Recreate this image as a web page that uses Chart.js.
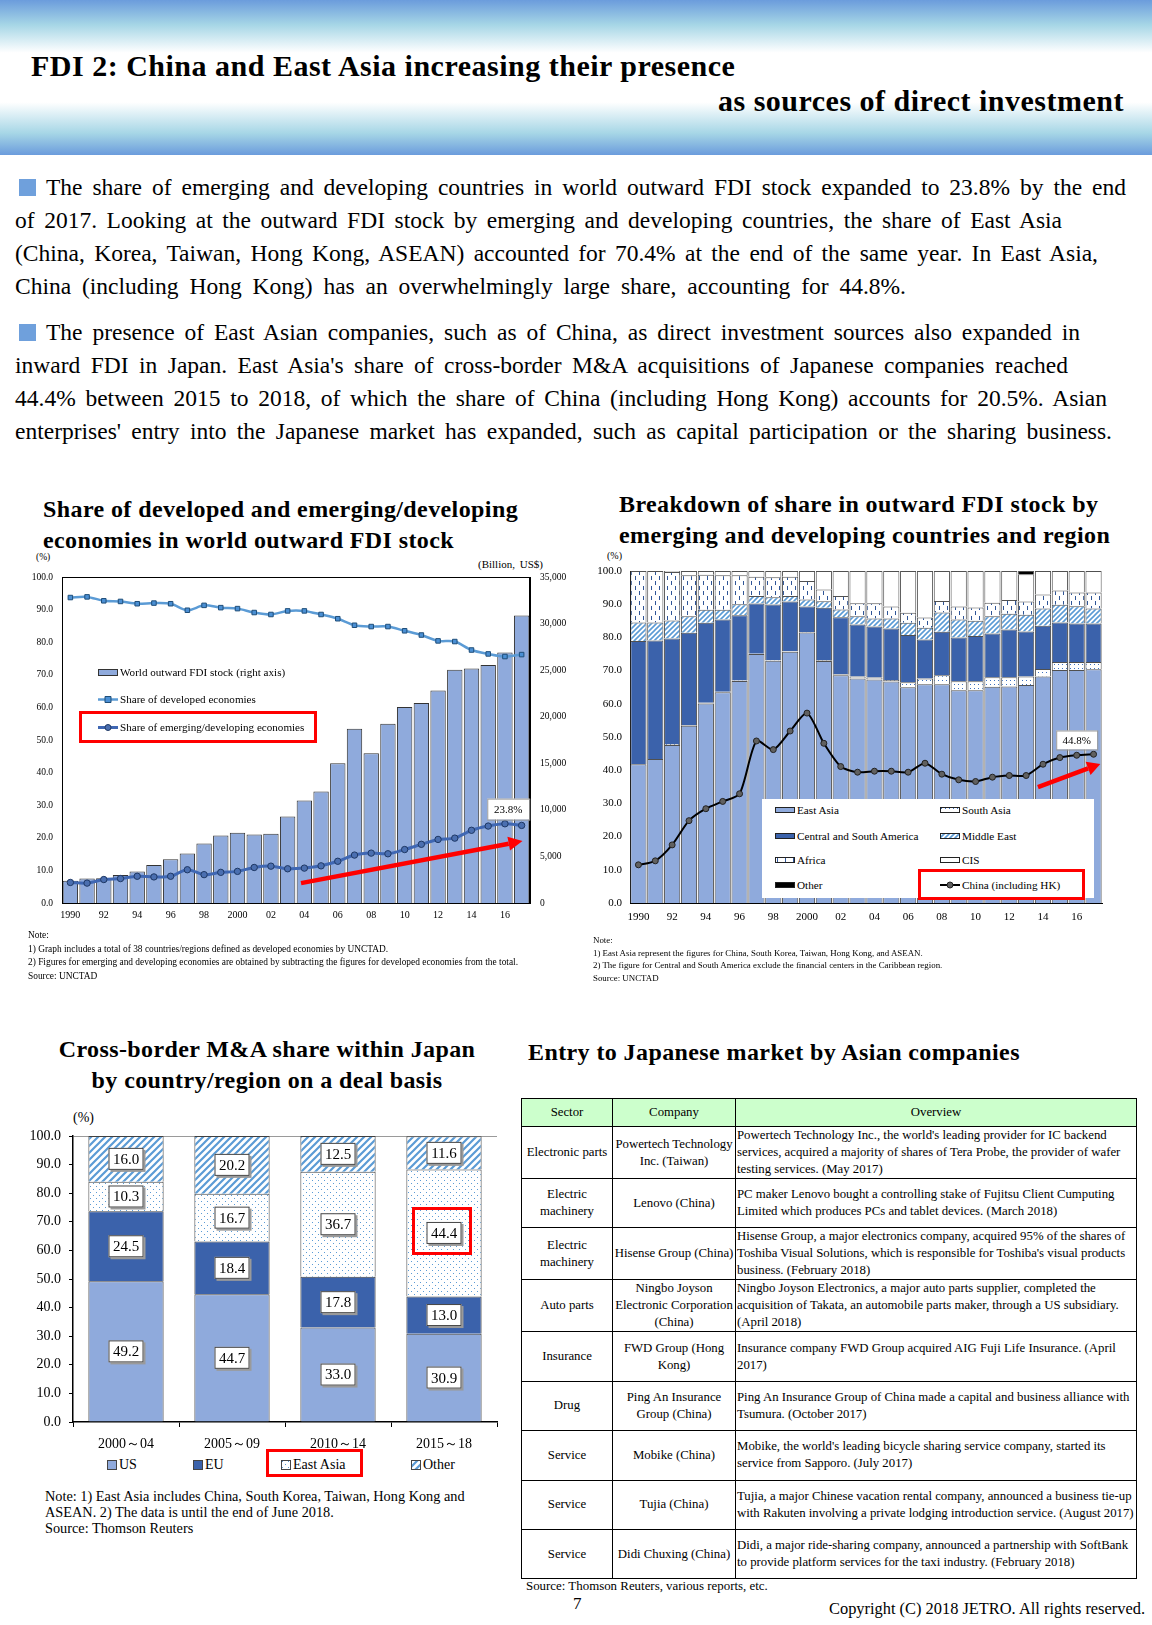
<!DOCTYPE html>
<html lang="en">
<head>
<meta charset="utf-8">
<title>FDI 2</title>
<script src="https://cdn.jsdelivr.net/npm/chart.js@4.4.1/dist/chart.umd.min.js"></script>
<style>
	body { margin: 0; background: #fff; }
	#page { position: relative; width: 1152px; height: 1625px; overflow: hidden; font-family: "Liberation Serif", "Times New Roman", serif; color: #000; }
	.t { position: absolute; white-space: nowrap; line-height: 1; }
	.band { position: absolute; left: 0; top: 0; width: 1152px; height: 155px;
		background: linear-gradient(#6b9cdc 0%, #a6d6e6 16%, #ffffff 34%, #ffffff 66%, #a6d6e6 86%, #6b9cdc 100%); }
	.h1 { font-weight: bold; font-size: 30px; letter-spacing: 0.5px; }
	.para { position: absolute; left: 15px; font-size: 23.5px; line-height: 33px; }
	.para div { white-space: nowrap; text-align: justify; text-align-last: justify; }
	.para div.last { text-align-last: left; }
	.sq { display: inline-block; width: 17px; height: 17px; background: #6fa0dc; margin: 0 10px 0 4px; vertical-align: -1px; }
	.ct { position: absolute; font-weight: bold; font-size: 24px; letter-spacing: 0.4px; line-height: 31px; white-space: nowrap; }
	canvas.chart { position: absolute; }
	.note { position: absolute; white-space: nowrap; }
	.leg { position: absolute; display: flex; align-items: center; white-space: nowrap; transform: translateY(-50%); }
	.leg canvas { margin-right: 2px; }
	.redbox { position: absolute; border: 3px solid #ff0000; box-sizing: border-box; }
	.legbox { position: absolute; background: #fff; }
	table { position: absolute; left: 521px; top: 1098px; width: 616px; border-collapse: collapse; table-layout: fixed; font-size: 12.8px; line-height: 17px; }
	td, th { border: 1px solid #000; padding: 0 1px; vertical-align: middle; font-weight: normal; }
	th { background: #ccffcc; height: 27px; text-align: center; }
	td { height: 48.4px; }
	td.c { text-align: center; }
</style>
</head>
<body>
<div id="page">
	<div class="band"></div>
	<div class="t h1" style="left:31px; top:51px">FDI 2: China and East Asia increasing their presence</div>
	<div class="t h1" style="right:28px; top:86px">as sources of direct investment</div>

	<div class="para" style="top:171px">
		<div style="width:1111px"><span class="sq"></span>The share of emerging and developing countries in world outward FDI stock expanded to 23.8% by the end</div>
		<div style="width:1047px">of 2017. Looking at the outward FDI stock by emerging and developing countries, the share of East Asia</div>
		<div style="width:1083px">(China, Korea, Taiwan, Hong Kong, ASEAN) accounted for 70.4% at the end of the same year. In East Asia,</div>
		<div style="width:891px">China (including Hong Kong) has an overwhelmingly large share, accounting for 44.8%.</div>
	</div>
	<div class="para" style="top:316px">
		<div style="width:1065px"><span class="sq"></span>The presence of East Asian companies, such as of China, as direct investment sources also expanded in</div>
		<div style="width:1053px">inward FDI in Japan. East Asia's share of cross-border M&amp;A acquisitions of Japanese companies reached</div>
		<div style="width:1092px">44.4% between 2015 to 2018, of which the share of China (including Hong Kong) accounts for 20.5%. Asian</div>
		<div style="width:1097px">enterprises' entry into the Japanese market has expanded, such as capital participation or the sharing business.</div>
	</div>

	<div class="ct" style="left:43px; top:494px">Share of developed and emerging/developing<br>economies in world outward FDI stock</div>
	<div class="ct" style="left:619px; top:489px">Breakdown of share in outward FDI stock by<br>emerging and developing countries and region</div>
	<div class="ct" style="left:267px; top:1034px; transform:translateX(-50%); text-align:center">Cross-border M&amp;A share within Japan<br>by country/region on a deal basis</div>
	<div class="ct" style="left:528px; top:1037px">Entry to Japanese market by Asian companies</div>

	<div class="t" style="left:36px; top:553px; font-size:9.5px">(%)</div>
	<div class="t" style="left:478px; top:559px; font-size:11px; word-spacing:2px">(Billion, US$)</div>
	<div class="t" style="left:607px; top:551px; font-size:10px">(%)</div>
	<div class="t" style="left:73px; top:1111px; font-size:14px">(%)</div>

	<canvas id="c1" class="chart" width="560" height="375" style="left:20px; top:560px"></canvas>
	<canvas id="c2" class="chart" width="562" height="380" style="left:585px; top:555px"></canvas>
	<canvas id="c3" class="chart" width="490" height="340" style="left:20px; top:1110px"></canvas>

	<div class="legbox" style="left:762px; top:799px; width:332px; height:99px"></div>

	<div class="note" style="left:28px; top:929px; font-size:9.4px; line-height:13.7px">Note:<br>1) Graph includes a total of 38 countries/regions defined as developed economies by UNCTAD.<br>2) Figures for emerging and developing economies are obtained by subtracting the figures for developed economies from the total.<br>Source: UNCTAD</div>
	<div class="note" style="left:593px; top:934px; font-size:8.9px; line-height:12.7px">Note:<br>1) East Asia represent the figures for China, South Korea, Taiwan, Hong Kong, and ASEAN.<br>2) The figure for Central and South America exclude the financial centers in the Caribbean region.<br>Source: UNCTAD</div>
	<div class="note" style="left:45px; top:1488px; font-size:14.3px; line-height:16px">Note: 1) East Asia includes China, South Korea, Taiwan, Hong Kong and<br>ASEAN. 2) The data is until the end of June 2018.<br>Source: Thomson Reuters</div>

	<table>
		<colgroup><col style="width:91px"><col style="width:123px"><col></colgroup>
		<tr><th>Sector</th><th>Company</th><th>Overview</th></tr>
		<tr><td class="c">Electronic parts</td><td class="c">Powertech Technology Inc. (Taiwan)</td><td>Powertech Technology Inc., the world's leading provider for IC backend services, acquired a majority of shares of Tera Probe, the provider of wafer testing services. (May 2017)</td></tr>
		<tr><td class="c">Electric machinery</td><td class="c">Lenovo (China)</td><td>PC maker Lenovo bought a controlling stake of Fujitsu Client Cumputing Limited which produces PCs and tablet devices. (March 2018)</td></tr>
		<tr><td class="c">Electric machinery</td><td class="c">Hisense Group (China)</td><td>Hisense Group, a major electronics company, acquired 95% of the shares of Toshiba Visual Solutions, which is responsible for Toshiba's visual products business. (February 2018)</td></tr>
		<tr><td class="c">Auto parts</td><td class="c">Ningbo Joyson Electronic Corporation (China)</td><td>Ningbo Joyson Electronics, a major auto parts supplier, completed the acquisition of Takata, an automobile parts maker, through a US subsidiary. (April 2018)</td></tr>
		<tr><td class="c">Insurance</td><td class="c">FWD Group (Hong Kong)</td><td>Insurance company FWD Group acquired AIG Fuji Life Insurance. (April 2017)</td></tr>
		<tr><td class="c">Drug</td><td class="c">Ping An Insurance Group (China)</td><td>Ping An Insurance Group of China made a capital and business alliance with Tsumura. (October 2017)</td></tr>
		<tr><td class="c">Service</td><td class="c">Mobike (China)</td><td>Mobike, the world's leading bicycle sharing service company, started its service from Sapporo. (July 2017)</td></tr>
		<tr><td class="c">Service</td><td class="c">Tujia (China)</td><td>Tujia, a major Chinese vacation rental company, announced a business tie-up with Rakuten involving a private lodging introduction service. (August 2017)</td></tr>
		<tr><td class="c">Service</td><td class="c">Didi Chuxing (China)</td><td>Didi, a major ride-sharing company, announced a partnership with SoftBank to provide platform services for the taxi industry. (February 2018)</td></tr>
	</table>

	<div class="t" style="left:526px; top:1580px; font-size:12.9px">Source: Thomson Reuters, various reports, etc.</div>
	<div class="t" style="left:573px; top:1595px; font-size:17px">7</div>
	<div class="t" style="right:7px; top:1601px; font-size:16.4px">Copyright (C) 2018 JETRO. All rights reserved.</div>
</div>

<script>
// ---- data: chart 1 (world outward FDI stock) ----
const years = ['1990','1991','1992','1993','1994','1995','1996','1997','1998','1999','2000','2001','2002','2003',
	'2004','2005','2006','2007','2008','2009','2010','2011','2012','2013','2014','2015','2016','2017']
const yearTicks = ['1990','','92','','94','','96','','98','','2000','','02','','04','','06','','08','','10','','12','','14','','16','']
const worldStock = [2390, 2640, 2670, 3000, 3390, 4070, 4710, 5320, 6390, 7250, 7540, 7360, 7430, 9290,
	11000, 11960, 15000, 18710, 16070, 19250, 21040, 21460, 22820, 25040, 25180, 25540, 26890, 30860]
const developedShare = [93.7, 93.9, 92.7, 92.5, 91.8, 92.0, 91.8, 89.8, 91.3, 90.6, 90.3, 89.1, 88.5, 89.6,
	89.6, 88.5, 87.2, 85.2, 84.8, 84.8, 83.5, 82.2, 80.4, 80.2, 77.6, 76.4, 75.6, 76.2]
const emergingShare = [6.3, 6.1, 7.2, 7.5, 8.2, 8.0, 8.2, 10.2, 8.7, 9.4, 9.7, 10.9, 11.3, 10.5,
	10.7, 11.4, 12.8, 14.7, 15.3, 15.1, 16.4, 18.0, 19.5, 19.9, 22.3, 23.6, 24.3, 23.8]

// ---- data: chart 2 (breakdown of emerging/developing stock, %) ----
const eastAsia = [41.8, 43.4, 47.6, 53.4, 60.1, 63.5, 66.9, 75.0, 73.0, 75.7, 81.5, 72.9, 68.6, 67.6,
	67.3, 66.7, 65.0, 65.9, 65.9, 64.1, 64.1, 65.1, 65.2, 65.7, 68.2, 70.2, 70.2, 70.4]
const southAsia = [0, 0, 0.3, 0.2, 0.2, 0.1, 0.1, 0.1, 0.1, 0.1, 0.1, 0.2, 0.3, 0.6,
	0.6, 0.5, 1.5, 1.7, 2.7, 2.7, 2.7, 2.9, 2.8, 2.5, 2.3, 2.4, 2.4, 2.2]
const centralSouthAmerica = [37.1, 35.7, 31.8, 27.8, 24.1, 21.8, 19.7, 15.1, 16.8, 15.0, 7.7, 15.8, 17.2, 15.7,
	15.4, 15.5, 14.2, 11.8, 13.1, 13.2, 13.6, 13.2, 14.4, 13.6, 13.0, 11.9, 11.6, 11.6]
const middleEast = [5.6, 5.4, 5.4, 5.0, 3.9, 2.9, 3.3, 2.3, 2.2, 1.7, 2.1, 2.0, 2.3, 2.5,
	2.4, 3.0, 3.7, 3.5, 5.8, 5.4, 4.6, 5.2, 4.7, 5.0, 5.2, 5.3, 5.2, 4.5]
const africa = [15.5, 15.5, 14.6, 12.3, 10.6, 10.4, 8.7, 5.8, 6.0, 5.8, 5.6, 3.5, 4.1, 3.9,
	4.6, 3.6, 3.0, 3.1, 3.5, 3.9, 4.0, 4.0, 4.2, 4.0, 4.2, 4.3, 4.1, 4.8]
const cis = [0, 0, 0.3, 1.3, 1.1, 1.3, 1.3, 1.7, 1.9, 1.7, 3.0, 5.6, 7.5, 9.7,
	9.7, 10.7, 12.6, 14.0, 9.0, 10.7, 11.0, 9.6, 8.7, 8.2, 7.1, 5.9, 6.5, 6.5]
const otherRegion = [0, 0, 0, 0, 0, 0, 0, 0, 0, 0, 0, 0, 0, 0,
	0, 0, 0, 0, 0, 0, 0, 0, 0, 1.0, 0, 0, 0, 0]
const chinaShare = [11.5, 12.7, 17.5, 24.8, 28.4, 30.6, 32.9, 48.8, 46.2, 51.8, 57.2, 48.1, 41.1, 39.4,
	39.7, 39.7, 39.4, 42.1, 38.8, 37.1, 36.6, 37.9, 38.4, 38.4, 41.8, 43.8, 44.5, 44.8]

// ---- data: chart 3 (cross-border M&A in Japan, %) ----
const periods = ['2000～04', '2005～09', '2010～14', '2015～18']
const usShare = [49.2, 44.7, 33.0, 30.9]
const euShare = [24.5, 18.4, 17.8, 13.0]
const eastAsiaMA = [10.3, 16.7, 36.7, 44.4]
const otherMA = [16.0, 20.2, 12.5, 11.6]

Chart.defaults.font.family = "'Liberation Serif', 'Times New Roman', serif"
Chart.defaults.color = '#000'
Chart.defaults.animation = false

const LIGHT = '#8faadc'
const DARK = '#3b62ab'

// small pattern tiles
function tile(w, h, draw) {
	const c = document.createElement('canvas')
	c.width = w
	c.height = h
	const g = c.getContext('2d')
	g.fillStyle = '#fff'
	g.fillRect(0, 0, w, h)
	draw(g)
	return c
}
function hatch(size, color, lw) {
	return tile(size, size, g => {
		g.strokeStyle = color
		g.lineWidth = lw
		g.beginPath()
		g.moveTo(-1, size + 1); g.lineTo(size + 1, -1)
		g.moveTo(-1, 1); g.lineTo(1, -1)
		g.moveTo(size - 1, size + 1); g.lineTo(size + 1, size - 1)
		g.stroke()
	})
}
const tiles = {
	southAsia: tile(4, 4, g => { g.fillStyle = '#3f72c0'; g.fillRect(1, 1, 1, 1) }),
	middleEast: hatch(5, '#5b9bd5', 1.6),
	africa: tile(8, 10, g => { g.fillStyle = '#2f5597'; g.fillRect(2, 1, 1, 4); g.fillRect(6, 6, 1, 4) }),
	dotsMA: tile(6, 6, g => { g.fillStyle = '#5b9bd5'; g.fillRect(1, 1, 1, 1); g.fillRect(4, 4, 1, 1) }),
	hatchMA: hatch(7, '#5b9bd5', 2.2)
}
const pat = (ctx, t) => ctx.createPattern(t, 'repeat')

// arrows, value callouts and frame drawn on top of the charts
const annotate = {
	id: 'annotate',
	afterDraw(chart, args, opts) {
		const { ctx, chartArea: a } = chart
		const x = chart.scales.x
		const y = chart.scales.y
		ctx.save()
		if (opts.frame) {
			ctx.strokeStyle = '#000'
			ctx.lineWidth = 1
			ctx.strokeRect(a.left + 0.5, a.top + 0.5, a.right - a.left - 1, a.bottom - a.top)
		}
		;(opts.arrows || []).forEach(ar => {
			const x0 = x.getPixelForValue(ar.from[0]), y0 = y.getPixelForValue(ar.from[1])
			const x1 = x.getPixelForValue(ar.to[0]), y1 = y.getPixelForValue(ar.to[1])
			const ang = Math.atan2(y1 - y0, x1 - x0)
			const hx = x1 - ar.head * Math.cos(ang), hy = y1 - ar.head * Math.sin(ang)
			ctx.strokeStyle = '#ff0000'
			ctx.fillStyle = '#ff0000'
			ctx.lineWidth = ar.width
			ctx.beginPath(); ctx.moveTo(x0, y0); ctx.lineTo(hx, hy); ctx.stroke()
			const nx = -Math.sin(ang) * ar.half, ny = Math.cos(ang) * ar.half
			ctx.beginPath(); ctx.moveTo(x1, y1); ctx.lineTo(hx + nx, hy + ny); ctx.lineTo(hx - nx, hy - ny); ctx.closePath(); ctx.fill()
		})
		;(opts.callouts || []).forEach(c => {
			const cx = x.getPixelForValue(c.at[0]), cy = y.getPixelForValue(c.at[1])
			ctx.fillStyle = '#fff'
			ctx.strokeStyle = '#999'
			ctx.lineWidth = 1
			ctx.fillRect(cx - c.w / 2, cy - c.h / 2, c.w, c.h)
			ctx.strokeRect(cx - c.w / 2 + 0.5, cy - c.h / 2 + 0.5, c.w, c.h)
			ctx.fillStyle = '#000'
			ctx.font = c.size + "px 'Liberation Serif', serif"
			ctx.textAlign = 'center'
			ctx.textBaseline = 'middle'
			ctx.fillText(c.text, cx, cy + 1)
		})
		ctx.restore()
	}
}

// boxed value labels in the middle of each stacked segment
const boxLabels = {
	id: 'boxLabels',
	afterDatasetsDraw(chart) {
		const { ctx } = chart
		ctx.save()
		ctx.font = "15px 'Liberation Serif', serif"
		ctx.textAlign = 'center'
		ctx.textBaseline = 'middle'
		chart.data.datasets.forEach((ds, di) => {
			chart.getDatasetMeta(di).data.forEach((el, i) => {
				const cx = el.x, cy = (el.y + el.base) / 2
				const w = 35, h = 22
				ctx.fillStyle = '#9a9a9a'
				ctx.fillRect(cx - w / 2 + 2, cy - h / 2 + 2, w, h)
				ctx.fillStyle = '#fff'
				ctx.fillRect(cx - w / 2, cy - h / 2, w, h)
				ctx.strokeStyle = '#444'
				ctx.lineWidth = 1
				ctx.strokeRect(cx - w / 2 + 0.5, cy - h / 2 + 0.5, w - 1, h - 1)
				ctx.fillStyle = '#000'
				ctx.fillText(ds.data[i].toFixed(1), cx, cy + 1)
			})
		})
		ctx.restore()
	}
}

const page = document.getElementById('page')

function legendItem(left, top, label, sw, font) {
	const d = document.createElement('div')
	d.className = 'leg'
	d.style.left = left + 'px'
	d.style.top = top + 'px'
	d.style.font = font
	const c = document.createElement('canvas')
	c.width = sw.w
	c.height = sw.h
	sw.draw(c.getContext('2d'), sw.w, sw.h)
	d.appendChild(c)
	const s = document.createElement('span')
	s.textContent = label
	d.appendChild(s)
	page.appendChild(d)
}
function rectSwatch(w, h, fill, stroke) {
	return { w, h, draw: (g) => {
		g.fillStyle = typeof fill === 'string' ? fill : g.createPattern(fill, 'repeat')
		g.fillRect(0, 0, w, h)
		g.strokeStyle = stroke
		g.lineWidth = 1
		g.strokeRect(0.5, 0.5, w - 1, h - 1)
	} }
}
function lineSwatch(w, h, color, lw, marker, mFill, mStroke) {
	return { w, h, draw: (g) => {
		g.strokeStyle = color
		g.lineWidth = lw
		g.beginPath(); g.moveTo(0, h / 2); g.lineTo(w, h / 2); g.stroke()
		g.fillStyle = mFill
		g.strokeStyle = mStroke
		g.lineWidth = 1
		g.beginPath()
		if (marker === 'rect') g.rect(w / 2 - 3, h / 2 - 3, 6, 6)
		else g.arc(w / 2, h / 2, 3, 0, Math.PI * 2)
		g.fill(); g.stroke()
	} }
}
function redBox(left, top, w, h) {
	const d = document.createElement('div')
	d.className = 'redbox'
	Object.assign(d.style, { left: left + 'px', top: top + 'px', width: w + 'px', height: h + 'px' })
	page.appendChild(d)
}

// ---- chart 1 ----
const c1 = document.getElementById('c1')
const chart1 = new Chart(c1, {
	data: {
		labels: years,
		datasets: [
			{ type: 'bar', label: 'World outward FDI stock (right axis)', data: worldStock, yAxisID: 'y1',
				backgroundColor: LIGHT, borderColor: '#333', borderWidth: 1, barPercentage: 0.92, categoryPercentage: 1, order: 2 },
			{ type: 'line', label: 'Share of developed economies', data: developedShare, yAxisID: 'y',
				borderColor: '#5b9bd5', borderWidth: 2.5, tension: 0.3, pointStyle: 'rect', pointRadius: 3.2,
				pointBackgroundColor: '#4a8fd4', pointBorderColor: '#1f4e79', pointBorderWidth: 1, order: 1 },
			{ type: 'line', label: 'Share of emerging/developing economies', data: emergingShare, yAxisID: 'y',
				borderColor: '#3f67b3', borderWidth: 3, tension: 0.3, pointStyle: 'circle', pointRadius: 3.2,
				pointBackgroundColor: '#4b6fb0', pointBorderColor: '#1f3864', pointBorderWidth: 1, order: 0 }
		]
	},
	options: {
		responsive: false,
		layout: { padding: { top: 17 } },
		plugins: {
			legend: { display: false },
			tooltip: { enabled: false },
			annotate: {
				frame: true,
				arrows: [{ from: [13.8, 6.1], to: [27.05, 19.0], width: 4.5, head: 14, half: 7 }],
				callouts: [{ at: [26.2, 28.8], text: '23.8%', w: 42, h: 21, size: 11 }]
			}
		},
		scales: {
			x: { grid: { display: false, drawTicks: false }, border: { color: '#000' },
				ticks: { autoSkip: false, maxRotation: 0, padding: 6, font: { size: 10 }, callback: (v, i) => yearTicks[i] },
				afterFit: s => { s.height = 32 } },
			y: { position: 'left', min: 0, max: 100, grid: { display: false, drawTicks: false }, border: { color: '#000' },
				ticks: { stepSize: 10, padding: 9, font: { size: 9.5 }, callback: v => v.toFixed(1) },
				afterFit: s => { s.width = 42 } },
			y1: { position: 'right', min: 0, max: 35000, grid: { display: false, drawTicks: false }, border: { color: '#000' },
				ticks: { stepSize: 5000, padding: 10, font: { size: 9.5 }, callback: v => v === 0 ? '0' : v.toLocaleString('en-US') },
				afterFit: s => { s.width = 50 } }
		}
	},
	plugins: [annotate]
})

// ---- chart 2 ----
const c2 = document.getElementById('c2')
const g2 = c2.getContext('2d')
const stackBar = (label, data, fill) => ({ type: 'bar', label, data, backgroundColor: fill, borderColor: '#505050',
	borderWidth: 1, barPercentage: 0.96, categoryPercentage: 1, stack: 's', order: 1 })
const chart2 = new Chart(c2, {
	data: {
		labels: years,
		datasets: [
			stackBar('East Asia', eastAsia, LIGHT),
			stackBar('South Asia', southAsia, pat(g2, tiles.southAsia)),
			stackBar('Central and South America', centralSouthAmerica, DARK),
			stackBar('Middle East', middleEast, pat(g2, tiles.middleEast)),
			stackBar('Africa', africa, pat(g2, tiles.africa)),
			stackBar('CIS', cis, '#ffffff'),
			stackBar('Other', otherRegion, '#000000'),
			{ type: 'line', label: 'China (including HK)', data: chinaShare, borderColor: '#000', borderWidth: 2,
				tension: 0.25, pointRadius: 3, pointBackgroundColor: '#606060', pointBorderColor: '#222', pointBorderWidth: 1, order: 0 }
		]
	},
	options: {
		responsive: false,
		layout: { padding: { top: 16, right: 45 } },
		plugins: {
			legend: { display: false },
			tooltip: { enabled: false },
			annotate: {
				arrows: [{ from: [23.7, 34.9], to: [27.4, 41.9], width: 4.5, head: 13, half: 7 }],
				callouts: [{ at: [26.0, 49.1], text: '44.8%', w: 41, h: 19, size: 11 }]
			}
		},
		scales: {
			x: { stacked: true, grid: { display: false, drawTicks: false }, border: { color: '#000' },
				ticks: { autoSkip: false, maxRotation: 0, padding: 8, font: { size: 11 }, callback: (v, i) => yearTicks[i] },
				afterFit: s => { s.height = 32 } },
			y: { stacked: true, min: 0, max: 100, grid: { display: false, drawTicks: false }, border: { color: '#000' },
				ticks: { stepSize: 10, padding: 8, font: { size: 11 }, callback: v => v.toFixed(1) },
				afterFit: s => { s.width = 45 } }
		}
	},
	plugins: [annotate]
})

// ---- chart 3 ----
const c3 = document.getElementById('c3')
const g3 = c3.getContext('2d')
const maBar = (label, data, fill) => ({ label, data, backgroundColor: fill, borderColor: '#404040', borderWidth: 1,
	barPercentage: 0.71, categoryPercentage: 1 })
const chart3 = new Chart(c3, {
	type: 'bar',
	data: {
		labels: periods,
		datasets: [
			maBar('US', usShare, LIGHT),
			maBar('EU', euShare, DARK),
			maBar('East Asia', eastAsiaMA, pat(g3, tiles.dotsMA)),
			maBar('Other', otherMA, pat(g3, tiles.hatchMA))
		]
	},
	options: {
		responsive: false,
		layout: { padding: { top: 26, right: 13 } },
		plugins: { legend: { display: false }, tooltip: { enabled: false } },
		scales: {
			x: { stacked: true, grid: { drawOnChartArea: false, tickLength: 5, tickColor: '#000', offset: true },
				border: { color: '#000', width: 1.5 }, ticks: { padding: 9, font: { size: 14 } },
				afterFit: s => { s.height = 28 } },
			y: { stacked: true, min: 0, max: 100,
				grid: { tickLength: 4, tickColor: '#000', color: c => c.tick && c.tick.value === 100 ? '#9a9a9a' : 'rgba(0,0,0,0)' },
				border: { color: '#000', width: 1.5 },
				ticks: { stepSize: 10, padding: 8, font: { size: 14 }, callback: v => v.toFixed(1) },
				afterFit: s => { s.width = 53 } }
		}
	},
	plugins: [boxLabels]
})

// ---- legends ----
const f1 = "11.1px 'Liberation Serif', serif"
const ds1 = chart1.data.datasets
legendItem(98, 672, ds1[0].label, rectSwatch(20, 7, LIGHT, '#333'), f1)
legendItem(98, 699, ds1[1].label, lineSwatch(20, 9, '#5b9bd5', 2.5, 'rect', '#4a8fd4', '#1f4e79'), f1)
legendItem(98, 727, ds1[2].label, lineSwatch(20, 9, '#3f67b3', 3, 'circle', '#4b6fb0', '#1f3864'), f1)
redBox(79, 711, 238, 32)

const f2 = "11.2px 'Liberation Serif', serif"
const ds2 = chart2.data.datasets
const fills2 = [LIGHT, tiles.southAsia, DARK, tiles.middleEast, tiles.africa, '#ffffff', '#000000']
const rows2 = [810, 836, 860, 885]
ds2.forEach((d, i) => {
	const col = i % 2, row = Math.floor(i / 2)
	const sw = i < 7 ? rectSwatch(20, 6, fills2[i], '#222') : lineSwatch(20, 8, '#000', 2, 'circle', '#606060', '#222')
	legendItem(col ? 940 : 775, rows2[row], d.label, sw, f2)
})
redBox(918, 869, 167, 31)

const f3 = "14px 'Liberation Serif', serif"
const ds3 = chart3.data.datasets
const fills3 = [LIGHT, DARK, tiles.dotsMA, tiles.hatchMA]
const xs3 = [107, 193, 281, 411]
ds3.forEach((d, i) => legendItem(xs3[i], 1465, d.label, rectSwatch(10, 10, fills3[i], '#444'), f3))
redBox(266, 1449, 97, 28)
redBox(412, 1207, 60, 48)
</script>
</body>
</html>
